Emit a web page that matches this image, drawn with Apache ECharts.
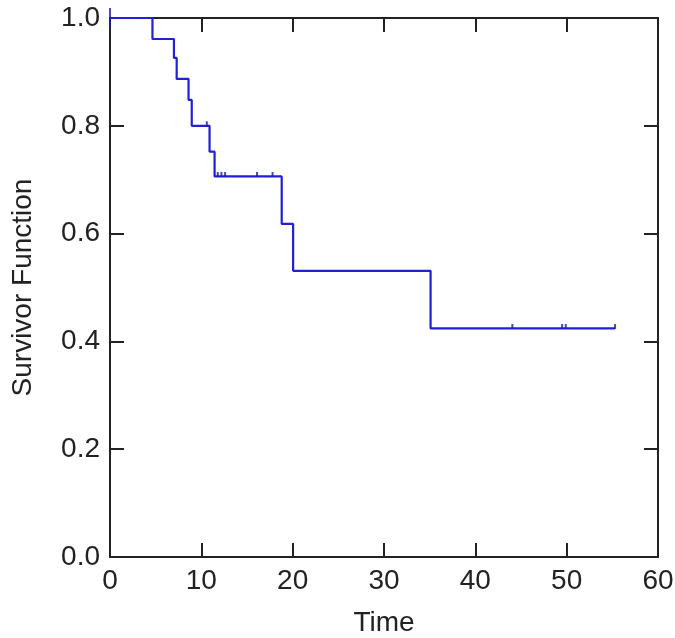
<!DOCTYPE html>
<html>
<head>
<meta charset="utf-8">
<script src="https://cdn.jsdelivr.net/npm/echarts@6/dist/echarts.min.js"></script>
<style>
  html, body { margin: 0; padding: 0; background: #fff; }
  #main { width: 675px; height: 638px; }
</style>
</head>
<body>
<div id="main"></div>
<script>
// step times and survival levels (Kaplan-Meier)
var stepTimes = [0, 4.65, 7.0, 7.3, 8.6, 8.95, 10.9, 11.45, 18.8, 20.05, 35.1, 55.3];
var stepValues = [1.0, 0.961, 0.926, 0.887, 0.848, 0.800, 0.752, 0.706, 0.618, 0.531, 0.424, 0.424];
// censored observations
var censorTimes = [0, 10.6, 11.8, 12.2, 12.6, 16.1, 17.8, 44.05, 49.5, 49.9, 55.3];
var censorValues = [1.0, 0.800, 0.706, 0.706, 0.706, 0.706, 0.706, 0.424, 0.424, 0.424, 0.424];
var xTicks = [0, 10, 20, 30, 40, 50, 60];
var yTicks = [0.0, 0.2, 0.4, 0.6, 0.8, 1.0];

var myChart = echarts.init(document.getElementById('main'));

var stepData = [];
for (var i = 0; i < stepTimes.length; i++) {
  stepData.push([stepTimes[i], stepValues[i]]);
}
var censorData = [];
for (var j = 0; j < censorTimes.length; j++) {
  censorData.push({
    value: [censorTimes[j], censorValues[j]],
    symbolSize: censorTimes[j] === 0 ? [2, 20] : [2, 5],
    symbolOffset: censorTimes[j] === 0 ? [0, 0] : [0, -2]
  });
}

var font = 'Liberation Sans, Arial, sans-serif';
var axisLine = { show: true, onZero: false, lineStyle: { color: '#222', width: 2 } };
var tick = { show: true, inside: true, length: 14, lineStyle: { color: '#222', width: 2 } };

myChart.setOption({
  animation: false,
  backgroundColor: '#fff',
  grid: { left: 110, right: 17, top: 18, bottom: 81, outerBoundsMode: 'none', containLabel: false },
  xAxis: [{
    type: 'value',
    min: xTicks[0],
    max: xTicks[xTicks.length - 1],
    interval: 10,
    name: 'Time',
    nameLocation: 'middle',
    nameGap: 52,
    nameTextStyle: { fontFamily: font, fontSize: 28, color: '#222' },
    axisLine: axisLine,
    axisTick: tick,
    axisLabel: { fontFamily: font, fontSize: 28, color: '#222', margin: 10 },
    splitLine: { show: false }
  }, {
    type: 'value',
    position: 'top',
    min: xTicks[0],
    max: xTicks[xTicks.length - 1],
    interval: 10,
    axisLine: axisLine,
    axisTick: tick,
    axisLabel: { show: false },
    splitLine: { show: false }
  }],
  yAxis: [{
    type: 'value',
    min: yTicks[0],
    max: yTicks[yTicks.length - 1],
    interval: 0.2,
    name: 'Survivor Function',
    nameLocation: 'middle',
    nameGap: 73,
    nameTextStyle: { fontFamily: font, fontSize: 28, color: '#222' },
    axisLine: axisLine,
    axisTick: tick,
    axisLabel: {
      fontFamily: font, fontSize: 28, color: '#222', margin: 10,
      formatter: function (v) { return v.toFixed(1); }
    },
    splitLine: { show: false }
  }, {
    type: 'value',
    position: 'right',
    min: yTicks[0],
    max: yTicks[yTicks.length - 1],
    interval: 0.2,
    axisLine: axisLine,
    axisTick: tick,
    axisLabel: { show: false },
    splitLine: { show: false }
  }],
  series: [{
    name: 'survival',
    type: 'line',
    step: 'end',
    data: stepData,
    showSymbol: false,
    lineStyle: { color: '#2020d8', width: 2.2 },
    z: 3
  }, {
    name: 'censored',
    type: 'scatter',
    data: censorData,
    symbol: 'rect',
    itemStyle: { color: '#1a1aa8' },
    z: 4
  }]
});
</script>
</body>
</html>
